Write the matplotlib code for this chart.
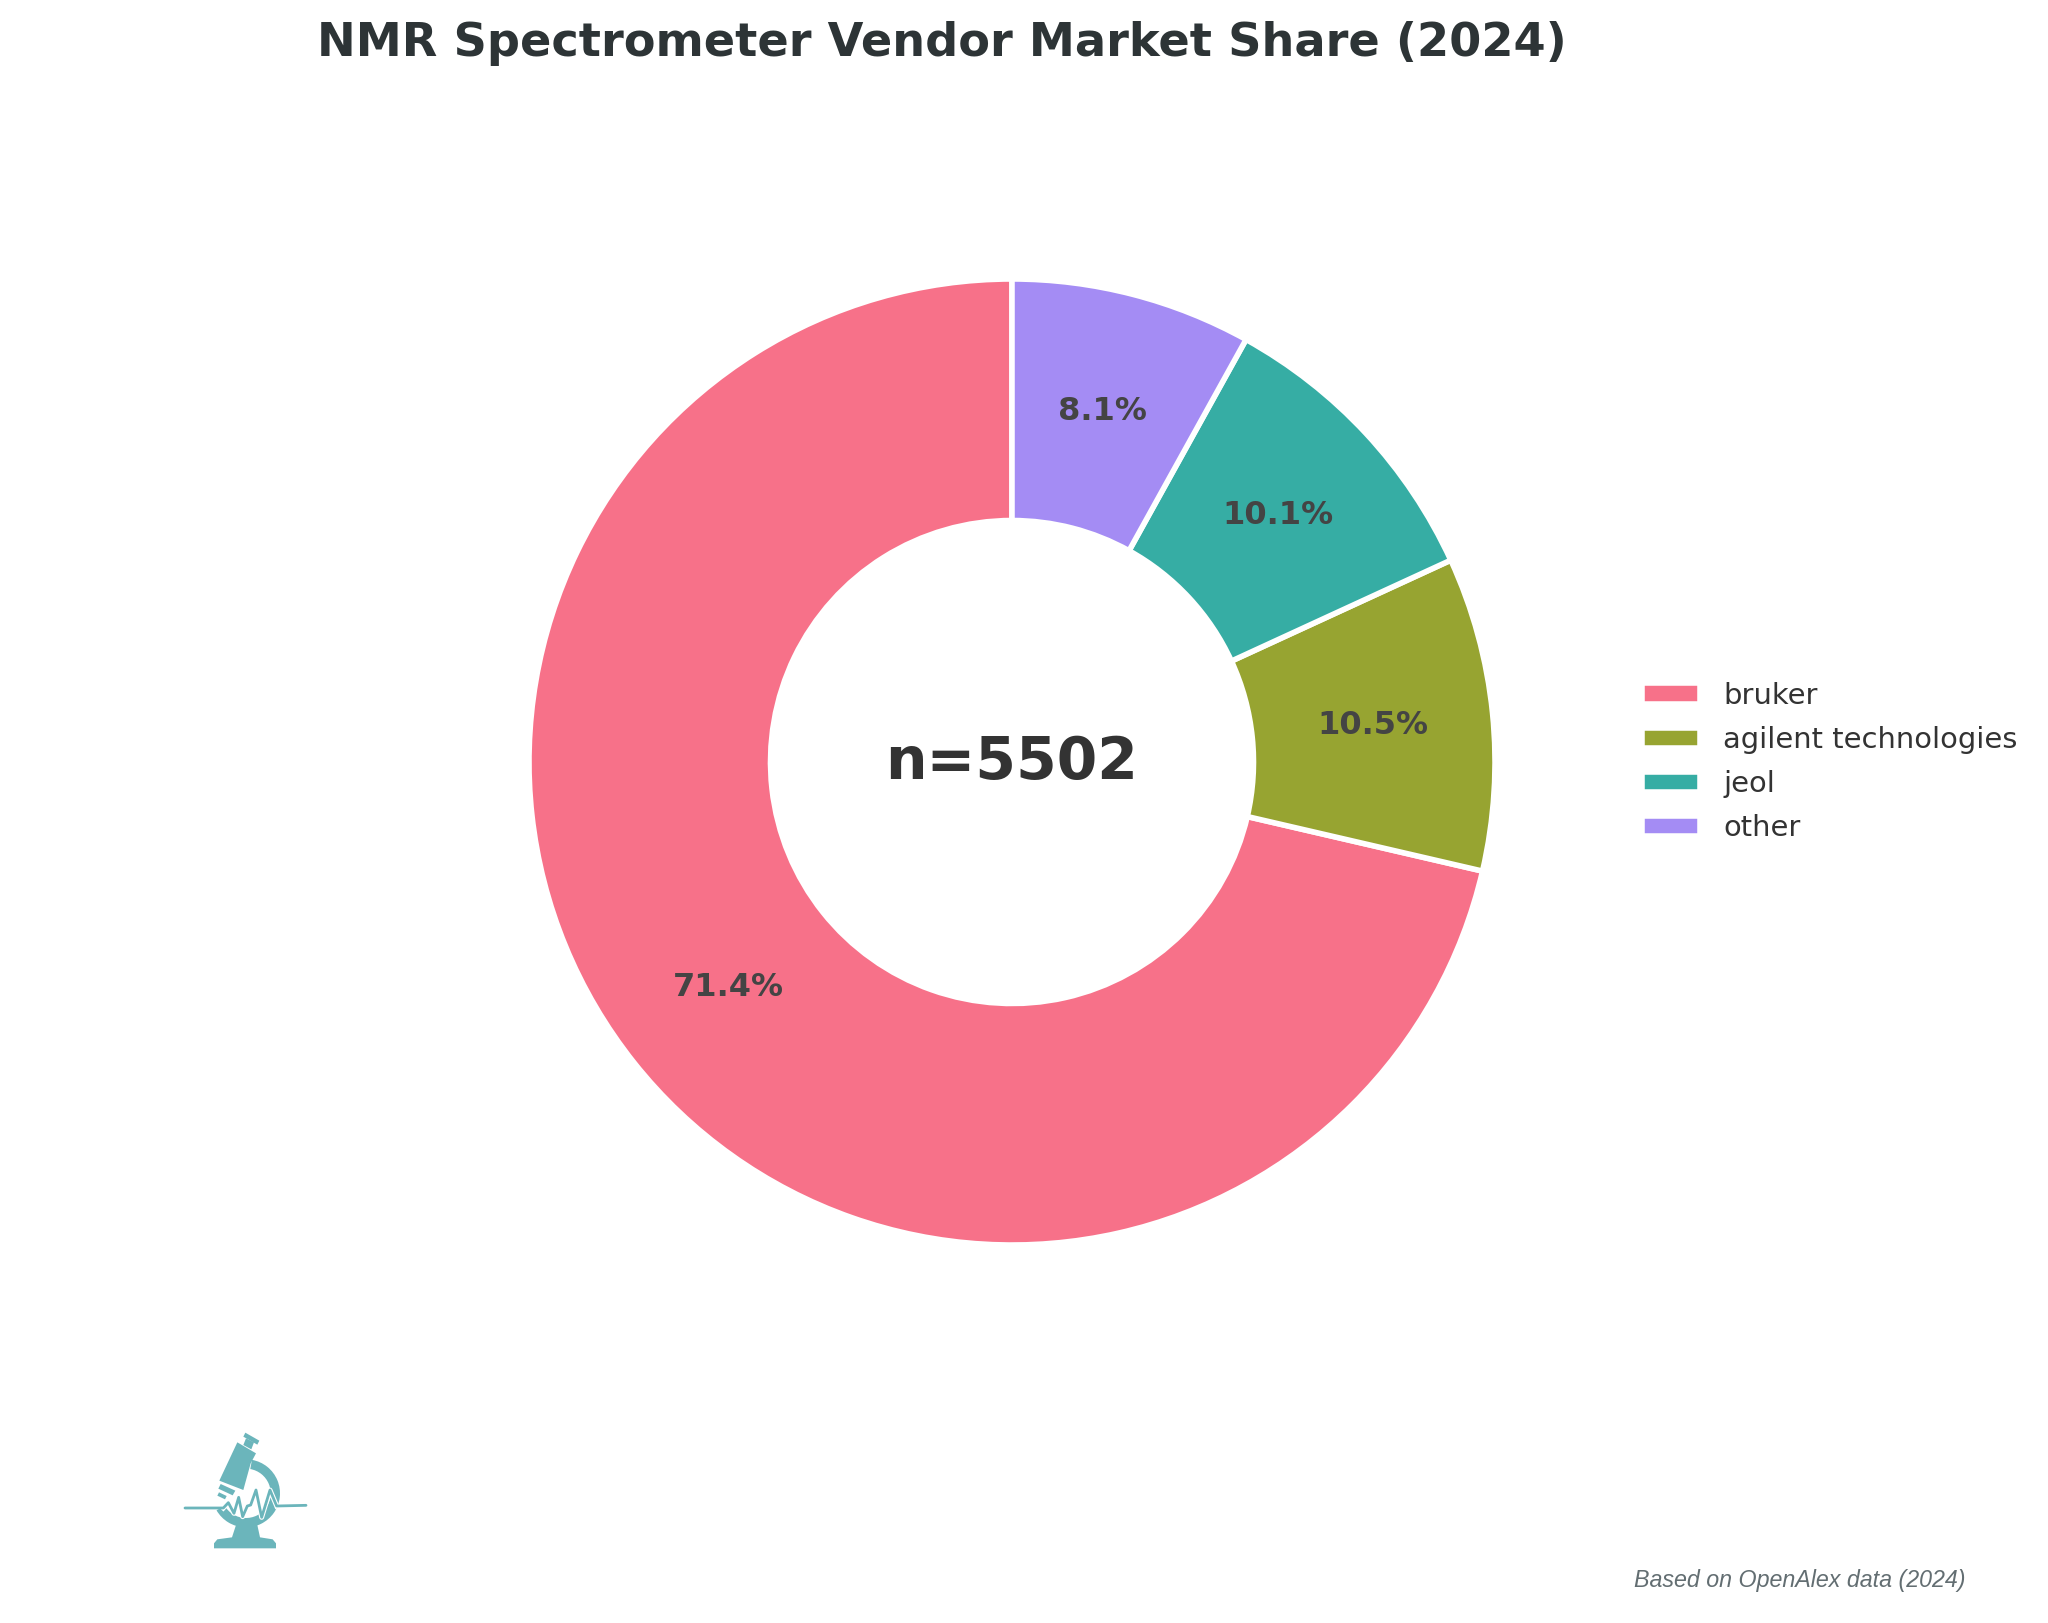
#!/usr/bin/env python3
"""NMR vendor share donut."""

import matplotlib

matplotlib.use("Agg")
import matplotlib.pyplot as plt
from matplotlib.patches import Polygon, Wedge

W, H = 2048, 1623
DPI = 200

vendors = ["bruker", "agilent technologies", "jeol", "other"]
counts = [3927, 577, 555, 443]
colors = ["#f77189", "#97a431", "#36ada4", "#a48cf4"]
total_label = "n=5502"

title = "NMR Spectrometer Vendor Market Share (2024)"
source = "Based on OpenAlex data (2024)"

# trazo del espectro dentro del logo, en pixeles del recorte
signal_x = [75, 190, 205, 222, 236, 248, 262, 272, 288, 305, 330, 350, 438]
signal_y = [294, 294, 278, 310, 262, 320, 288, 285, 240, 322, 240, 288, 286]


def px_rect(x0, y0, x1, y1):
    return [x0 / W, 1 - y1 / H, (x1 - x0) / W, (y1 - y0) / H]


def draw_logo(fig):
    ax = fig.add_axes(px_rect(160, 1410, 330, 1560))
    ax.set_xlim(0, 510)
    ax.set_ylim(450, 0)
    ax.axis("off")
    teal = "#6bb5bb"

    # brazo y base
    ax.add_patch(Wedge((258, 250), 102, -80, 150, width=28, color=teal, lw=0))
    ax.add_patch(Polygon([[228, 345], [292, 345], [300, 382], [338, 388], [348, 400], [348, 415],
                          [162, 415], [162, 400], [172, 388], [216, 382]], color=teal, lw=0))
    # tubo del microscopio
    ax.add_patch(Polygon([[232, 97], [288, 130], [272, 160], [250, 240], [178, 212]], color=teal, lw=0))
    ax.add_patch(Polygon([[258, 85], [282, 97], [274, 118], [250, 105]], color=teal, lw=0))
    ax.add_patch(Polygon([[256, 68], [298, 92], [292, 104], [250, 80]], color=teal, lw=0))
    ax.add_patch(Polygon([[182, 222], [226, 242], [218, 256], [175, 236]], color=teal, lw=0))
    ax.add_patch(Polygon([[177, 247], [200, 258], [195, 268], [172, 257]], color=teal, lw=0))
    # espectro con halo blanco
    ax.plot(signal_x[1:-1], signal_y[1:-1], color="white", lw=1.8, solid_joinstyle="round")
    ax.plot(signal_x, signal_y, color=teal, lw=1.0, solid_joinstyle="round", solid_capstyle="round")


fig = plt.figure(figsize=(W / DPI, H / DPI), dpi=DPI, facecolor="white")

cx, cy, r = 1012, 762, 483
ax = fig.add_axes(px_rect(cx - r, cy - r, cx + r, cy + r))
wedges, _, autotexts = ax.pie(
    counts,
    colors=colors,
    startangle=90,
    radius=1,
    autopct="%1.1f%%",
    pctdistance=0.75,
    wedgeprops=dict(width=0.5, edgecolor="white", linewidth=2),
    textprops=dict(fontsize=11.5, fontweight="bold", color="#444444"),
)
ax.set_xlim(-1, 1)
ax.set_ylim(-1, 1)
ax.text(0, 0, total_label, ha="center", va="center", fontsize=21, fontweight="bold", color="#333333")

fig.text(942 / W, 1 - 43 / H, title, ha="center", va="center", fontsize=16.65,
         fontweight="bold", color="#2d3436")

fig.legend(
    wedges,
    vendors,
    loc="center left",
    bbox_to_anchor=(1616 / W, 1 - 762 / H),
    frameon=False,
    fontsize=10.45,
    labelspacing=0.56,
    labelcolor="#333333",
)

fig.text(1966 / W, 1 - 1581 / H, source, ha="right", va="center", fontsize=8.4,
         style="italic", family="Liberation Sans", color="#636e72")

draw_logo(fig)

fig.savefig("out.png", dpi=DPI, facecolor="white")
